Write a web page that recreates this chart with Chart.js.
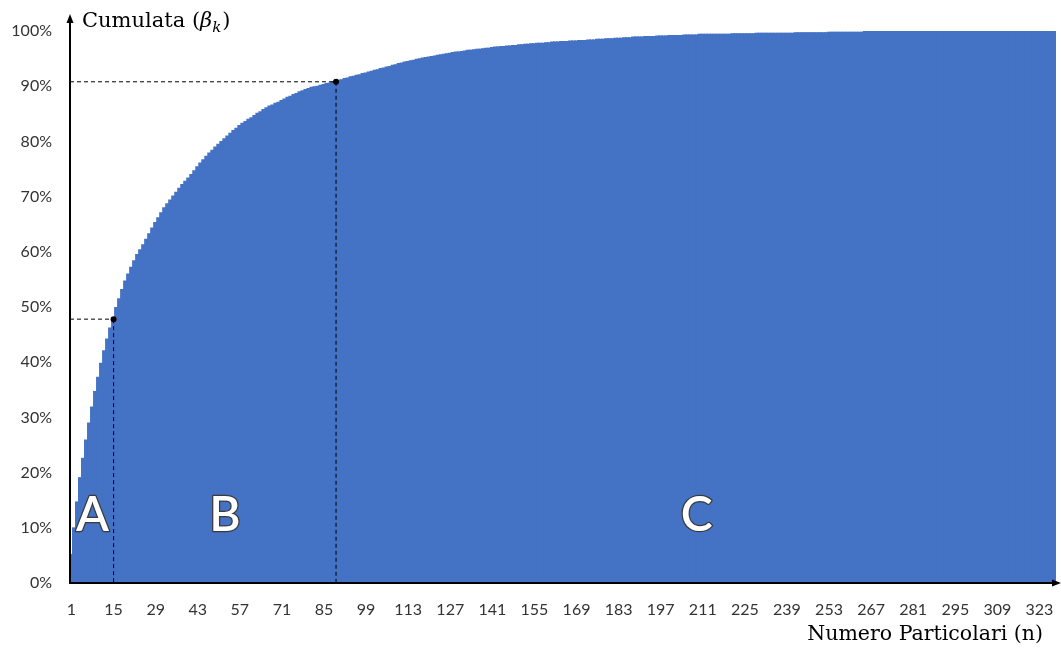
<!DOCTYPE html>
<html>
<head>
<meta charset="utf-8">
<script src="https://cdn.jsdelivr.net/npm/chart.js@4"></script>
<style>
  body { margin: 0; background: #fff; }
</style>
</head>
<body>
<canvas id="paretoChart" width="1061" height="648"></canvas>
<script>
// cumulative share (%) per item
const cumulata = [
  5.1, 9.9, 14.6, 19.0, 22.5, 25.8, 28.9, 31.8, 34.6, 37.2,
  39.7, 42.0, 44.1, 46.1, 47.8, 49.8, 51.4, 53.1, 54.6, 55.9,
  57.1, 58.3, 59.4, 60.3, 61.2, 62.2, 63.2, 64.2, 65.2, 66.1,
  67.0, 67.9, 68.6, 69.3, 70.0, 70.7, 71.4, 72.1, 72.7, 73.3,
  73.9, 74.6, 75.3, 76.0, 76.6, 77.2, 77.8, 78.3, 78.9, 79.4,
  79.9, 80.4, 80.9, 81.4, 81.9, 82.3, 82.8, 83.2, 83.5, 83.9,
  84.2, 84.6, 85.0, 85.3, 85.7, 86.0, 86.3, 86.5, 86.8, 87.0,
  87.3, 87.6, 87.9, 88.1, 88.4, 88.6, 88.9, 89.1, 89.3, 89.5,
  89.7, 89.8, 89.9, 90.1, 90.2, 90.4, 90.5, 90.7, 90.8, 91.0,
  91.1, 91.3, 91.4, 91.6, 91.7, 91.9, 92.0, 92.2, 92.3, 92.5,
  92.6, 92.8, 92.9, 93.1, 93.2, 93.4, 93.5, 93.7, 93.8, 94.0,
  94.1, 94.3, 94.4, 94.5, 94.6, 94.8, 94.9, 95.0, 95.1, 95.2,
  95.3, 95.4, 95.5, 95.6, 95.7, 95.8, 95.9, 96.0, 96.1, 96.1,
  96.2, 96.3, 96.4, 96.4, 96.5, 96.6, 96.6, 96.7, 96.8, 96.8,
  96.9, 97.0, 97.0, 97.1, 97.1, 97.2, 97.2, 97.3, 97.3, 97.4,
  97.4, 97.5, 97.5, 97.6, 97.6, 97.7, 97.7, 97.7, 97.8, 97.8,
  97.9, 97.9, 97.9, 98.0, 98.0, 98.0, 98.1, 98.1, 98.1, 98.2,
  98.2, 98.2, 98.3, 98.3, 98.3, 98.4, 98.4, 98.4, 98.5, 98.5,
  98.5, 98.6, 98.6, 98.6, 98.7, 98.7, 98.7, 98.8, 98.8, 98.8,
  98.8, 98.9, 98.9, 98.9, 98.9, 99.0, 99.0, 99.0, 99.0, 99.1,
  99.1, 99.1, 99.1, 99.1, 99.2, 99.2, 99.2, 99.2, 99.2, 99.3,
  99.3, 99.3, 99.3, 99.3, 99.3, 99.3, 99.3, 99.3, 99.3, 99.3,
  99.4, 99.4, 99.4, 99.4, 99.4, 99.4, 99.4, 99.4, 99.5, 99.5,
  99.5, 99.5, 99.5, 99.5, 99.5, 99.5, 99.5, 99.5, 99.5, 99.5,
  99.5, 99.6, 99.6, 99.6, 99.6, 99.6, 99.6, 99.6, 99.6, 99.6,
  99.6, 99.6, 99.7, 99.7, 99.7, 99.7, 99.7, 99.7, 99.7, 99.7,
  99.7, 99.7, 99.7, 99.7, 99.8, 99.8, 99.8, 99.8, 99.8, 99.8,
  99.8, 99.8, 99.8, 99.8, 99.8, 99.8, 99.8, 99.8, 99.8, 99.8,
  99.8, 99.8, 99.8, 99.8, 99.8, 99.8, 99.8, 99.8, 99.8, 99.8,
  99.9, 99.9, 99.9, 99.9, 99.9, 99.9, 99.9, 99.9, 99.9, 99.9,
  99.9, 99.9, 99.9, 99.9, 99.9, 99.9, 99.9, 99.9, 99.9, 99.9,
  99.9, 99.9, 99.9, 99.9, 99.9, 99.9, 99.9, 99.9, 99.9, 99.9,
  99.9, 99.9, 99.9, 99.9, 99.9, 99.9, 99.9, 100.0
];
const items = cumulata.map((v, i) => String(i + 1)); // 1 .. 328
const tickStep = 14;           // x labels: 1, 15, 29, ...
const markerAt = [15, 89];     // A/B and B/C cut points
const classNames = ['A', 'B', 'C'];
const classAt = [8, 52, 209];  // item under each class letter
const classLevel = 9.4;        // baseline of the letters, in %

const tickFont = { family: 'Lato, "Open Sans", sans-serif', size: 16 };
const tickColor = '#333333';
const barColor = '#4472C4';

const overlay = {
  id: 'overlay',
  afterDatasetsDraw(chart) {
    const { ctx, chartArea, scales: { x, y } } = chart;
    const left = chartArea.left, bottom = chartArea.bottom;
    ctx.save();

    // dashed guides to the cut points
    ctx.strokeStyle = '#000';
    ctx.lineWidth = 1;
    ctx.setLineDash([4, 3]);
    markerAt.forEach(n => {
      const px = x.getPixelForValue(n - 1);
      const py = y.getPixelForValue(cumulata[n - 1]);
      ctx.beginPath();
      ctx.moveTo(left, py);
      ctx.lineTo(px, py);
      ctx.moveTo(px, py);
      ctx.lineTo(px, bottom);
      ctx.stroke();
    });
    ctx.setLineDash([]);
    ctx.fillStyle = '#000';
    markerAt.forEach(n => {
      ctx.beginPath();
      ctx.arc(x.getPixelForValue(n - 1), y.getPixelForValue(cumulata[n - 1]), 3, 0, Math.PI * 2);
      ctx.fill();
    });

    // axes with arrow heads
    ctx.lineWidth = 2;
    ctx.beginPath();
    ctx.moveTo(left, bottom);
    ctx.lineTo(left, 20);
    ctx.moveTo(left - 1, bottom);
    ctx.lineTo(1055, bottom);
    ctx.stroke();
    ctx.beginPath();
    ctx.moveTo(left, 14);
    ctx.lineTo(left - 3.5, 23);
    ctx.lineTo(left + 3.5, 23);
    ctx.closePath();
    ctx.fill();
    ctx.beginPath();
    ctx.moveTo(1061, bottom);
    ctx.lineTo(1052, bottom - 3.5);
    ctx.lineTo(1052, bottom + 3.5);
    ctx.closePath();
    ctx.fill();

    // class letters
    ctx.font = '600 48px Lato, "Open Sans", sans-serif';
    ctx.textAlign = 'center';
    ctx.textBaseline = 'alphabetic';
    ctx.lineJoin = 'round';
    ctx.lineWidth = 2.5;
    ctx.strokeStyle = '#3a3a3a';
    ctx.fillStyle = '#ffffff';
    classNames.forEach((c, i) => {
      const px = x.getPixelForValue(classAt[i] - 1);
      const py = y.getPixelForValue(classLevel);
      ctx.strokeText(c, px, py);
      ctx.fillText(c, px, py);
    });

    // axis titles
    ctx.fillStyle = '#000';
    ctx.textBaseline = 'middle';
    ctx.textAlign = 'left';
    const serif = '"DejaVu Serif", "Liberation Serif", serif';
    let tx = 82;
    ctx.font = '21px ' + serif;
    ctx.fillText('Cumulata (', tx, 22);
    tx += ctx.measureText('Cumulata (').width;
    ctx.font = 'italic 21px ' + serif;
    ctx.fillText('\u03B2', tx, 22);
    tx += ctx.measureText('\u03B2').width;
    ctx.font = 'italic 15px ' + serif;
    ctx.fillText('k', tx, 28);
    tx += ctx.measureText('k').width + 1;
    ctx.font = '21px ' + serif;
    ctx.fillText(')', tx, 22);

    ctx.font = '20.5px ' + serif;
    ctx.textAlign = 'right';
    ctx.fillText('Numero Particolari (n)', 1043, 635);
    ctx.restore();
  }
};

const ctx = document.getElementById('paretoChart').getContext('2d');
new Chart(ctx, {
  type: 'bar',
  data: {
    labels: items,
    datasets: [{
      data: cumulata,
      backgroundColor: barColor,
      borderWidth: 0,
      barPercentage: 1,
      categoryPercentage: 1,
      inflateAmount: 1
    }]
  },
  options: {
    responsive: false,
    animation: false,
    layout: { padding: { left: 0, right: 5, top: 31, bottom: 0 } },
    plugins: { legend: { display: false }, tooltip: { enabled: false } },
    scales: {
      x: {
        grid: { display: false, drawTicks: false },
        border: { display: false },
        ticks: {
          autoSkip: false,
          maxRotation: 0,
          padding: 17,
          font: tickFont,
          color: tickColor,
          callback: (v, i) => (i % tickStep === 0 ? items[i] : '')
        },
        afterFit: s => { s.height = 65; s.paddingLeft = 0; s.paddingRight = 0; }
      },
      y: {
        min: 0,
        max: 100,
        grid: { display: false, drawTicks: false },
        border: { display: false },
        ticks: {
          stepSize: 10,
          padding: 18,
          font: tickFont,
          color: tickColor,
          callback: v => v + '%'
        },
        afterFit: s => { s.width = 70; }
      }
    }
  },
  plugins: [overlay]
});
</script>
</body>
</html>
